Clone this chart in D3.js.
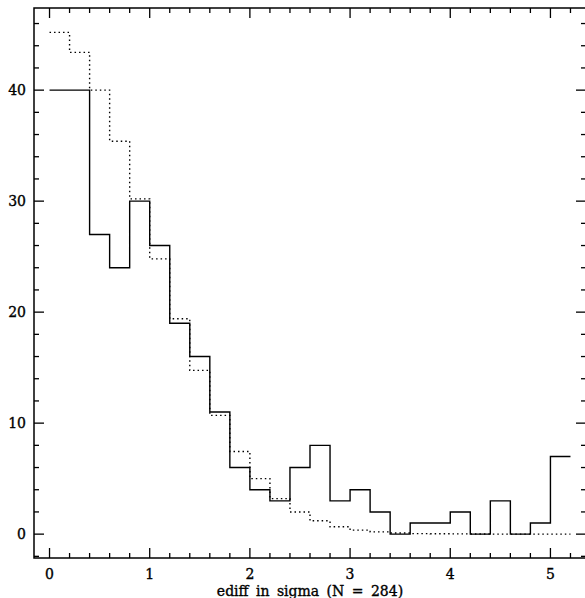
<!DOCTYPE html>
<html>
<head>
<meta charset="utf-8">
<script src="https://cdn.jsdelivr.net/npm/d3@7"></script>
<style>
  html, body { margin: 0; padding: 0; background: #fff; }
  svg { display: block; overflow: hidden; }
  text { font-family: "DejaVu Serif", serif; fill: #000; stroke: #000; stroke-width: 0.35px; }
</style>
</head>
<body>
<svg id="viz"></svg>
<script>
const WIDTH = 585;
const HEIGHT = 598;

// frame of the plot box (right edge sits just outside the window)
const FRAME = { left: 34, top: 8, right: 586, bottom: 558 };

// left edges of the histogram bins
const binEdges = [0, 0.2, 0.4, 0.6, 0.8, 1.0, 1.2, 1.4, 1.6, 1.8, 2.0, 2.2, 2.4,
                  2.6, 2.8, 3.0, 3.2, 3.4, 3.6, 3.8, 4.0, 4.2, 4.4, 4.6, 4.8, 5.0];
const binEnd = 5.2;

// observed counts (solid)
const observed = [40, 40, 27, 24, 30, 26, 19, 16, 11, 6, 4, 3, 6,
                  8, 3, 4, 2, 0, 1, 1, 2, 0, 3, 0, 1, 7];

// expected counts (dotted)
const expected = [45.2, 43.4, 40.0, 35.4, 30.2, 24.8, 19.4, 14.75, 10.7, 7.45, 5.0, 3.2, 2.0,
                  1.2, 0.66, 0.36, 0.2, 0.1, 0.05, 0.03, 0.02, 0.01, 0, 0, 0, 0];

const xMajor = [0, 1, 2, 3, 4, 5];
const yMajor = [0, 10, 20, 30, 40];
const xLabel = "ediff in sigma (N = 284)";

const x = d3.scaleLinear().domain([-0.155, 5.355]).range([FRAME.left, FRAME.right]);
const y = d3.scaleLinear().domain([-2.15, 47.4]).range([FRAME.bottom, FRAME.top]);

const svg = d3.select("#viz").attr("width", WIDTH).attr("height", HEIGHT);

// frame
svg.append("rect")
  .attr("x", FRAME.left).attr("y", FRAME.top)
  .attr("width", FRAME.right - FRAME.left)
  .attr("height", FRAME.bottom - FRAME.top)
  .attr("fill", "none").attr("stroke", "#000").attr("stroke-width", 1.5);

// ticks (inward, all four sides)
const xMinor = d3.range(0, 5.3, 0.2).map(v => +v.toFixed(1)).filter(v => !xMajor.includes(v));
const yMinor = d3.range(-2, 47, 2).filter(v => !yMajor.includes(v));

const tickG = svg.append("g").attr("stroke", "#000").attr("stroke-width", 1.3);

function xTicks(vals, len) {
  vals.forEach(v => {
    tickG.append("line").attr("x1", x(v)).attr("x2", x(v))
      .attr("y1", FRAME.bottom).attr("y2", FRAME.bottom - len);
    tickG.append("line").attr("x1", x(v)).attr("x2", x(v))
      .attr("y1", FRAME.top).attr("y2", FRAME.top + len);
  });
}
function yTicks(vals, len) {
  vals.forEach(v => {
    tickG.append("line").attr("y1", y(v)).attr("y2", y(v))
      .attr("x1", FRAME.left).attr("x2", FRAME.left + len);
    tickG.append("line").attr("y1", y(v)).attr("y2", y(v))
      .attr("x1", FRAME.right).attr("x2", FRAME.right - len);
  });
}
xTicks(xMajor, 10);
xTicks(xMinor, 5);
yTicks(yMajor, 10);
yTicks(yMinor, 5);

// tick labels
svg.append("g").selectAll("text")
  .data(xMajor)
  .join("text")
  .attr("x", d => x(d))
  .attr("y", 579)
  .attr("text-anchor", "middle")
  .attr("font-size", 14)
  .text(d => d);

svg.append("g").selectAll("text")
  .data(yMajor)
  .join("text")
  .attr("x", 26)
  .attr("y", d => y(d) + 5)
  .attr("text-anchor", "end")
  .attr("font-size", 14)
  .text(d => d);

svg.append("text")
  .attr("x", (FRAME.left + FRAME.right) / 2)
  .attr("y", 596)
  .attr("text-anchor", "middle")
  .attr("font-size", 14)
  .attr("word-spacing", 3)
  .text(xLabel);

// histograms as steps
const stepLine = d3.line()
  .x(d => x(d[0]))
  .y(d => y(d[1]))
  .curve(d3.curveStepAfter);

function stepPoints(vals) {
  const pts = binEdges.map((e, i) => [e, vals[i]]);
  pts.push([binEnd, vals[vals.length - 1]]);
  return pts;
}

svg.append("path")
  .datum(stepPoints(expected))
  .attr("d", stepLine)
  .attr("fill", "none")
  .attr("stroke", "#000")
  .attr("stroke-width", 1.4)
  .attr("stroke-dasharray", "1.5,3");

svg.append("path")
  .datum(stepPoints(observed))
  .attr("d", stepLine)
  .attr("fill", "none")
  .attr("stroke", "#000")
  .attr("stroke-width", 1.4);
</script>
</body>
</html>
